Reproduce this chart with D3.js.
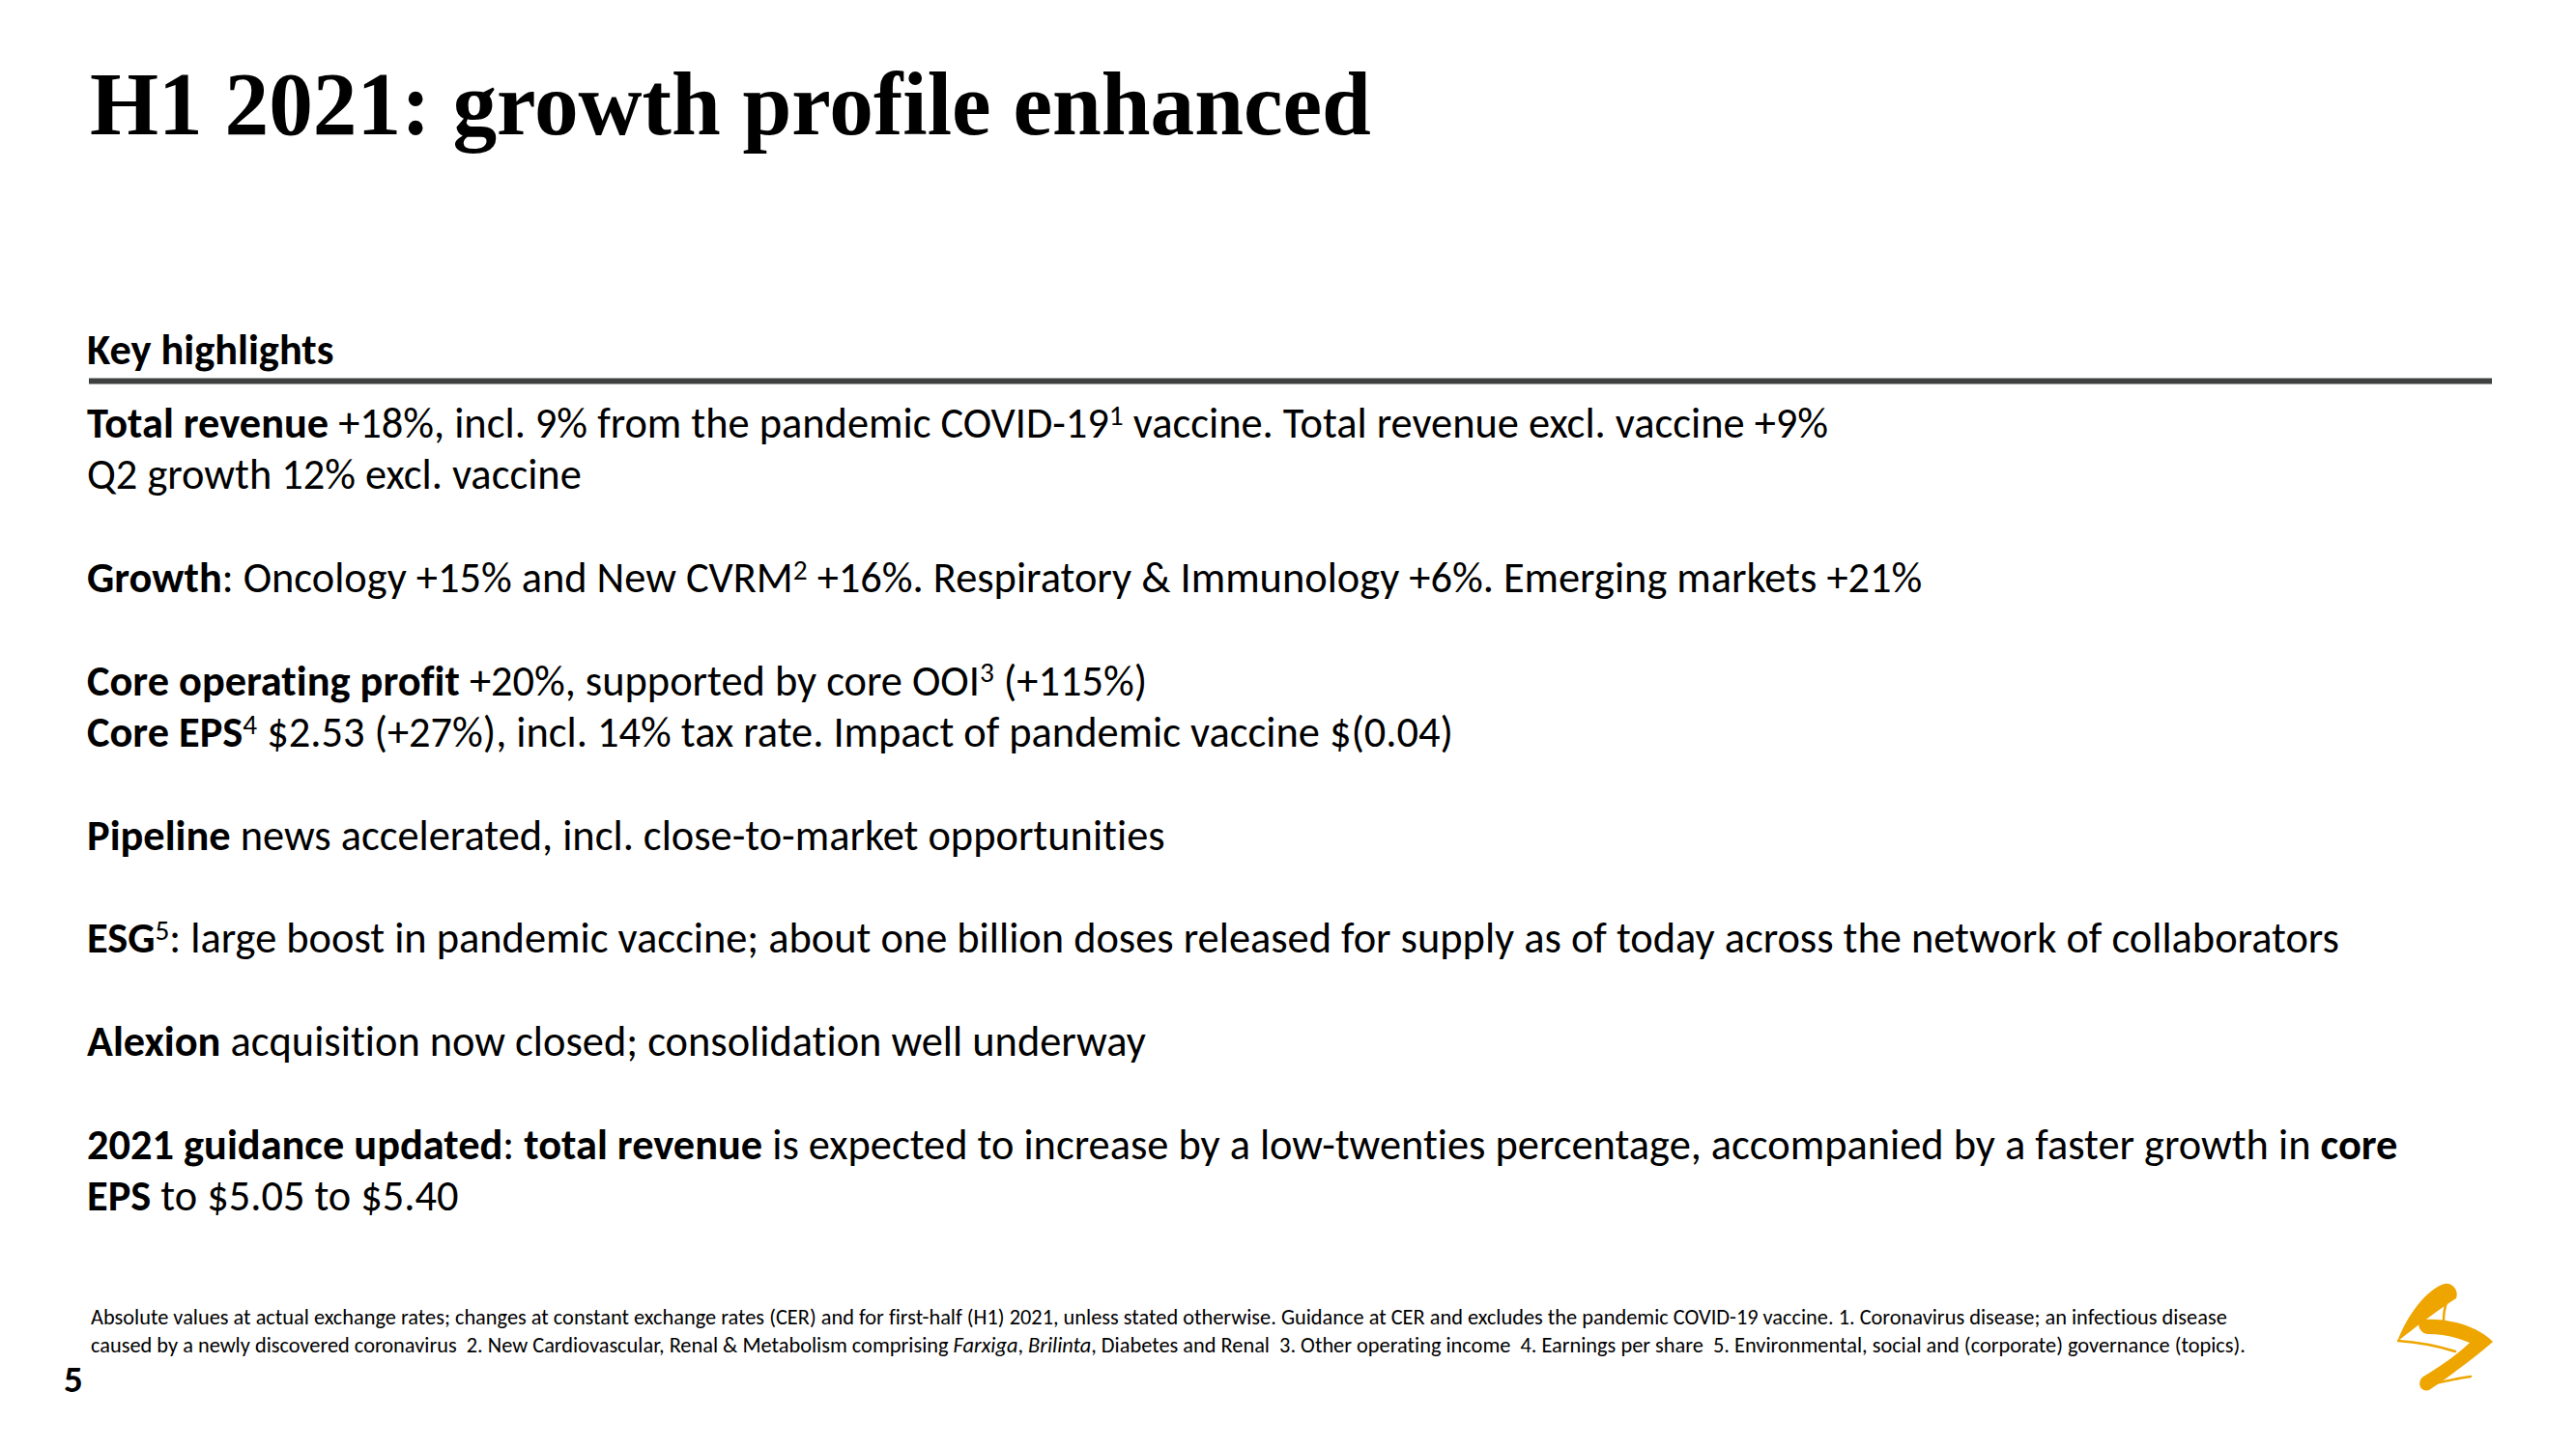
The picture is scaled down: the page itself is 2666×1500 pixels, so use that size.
<!DOCTYPE html>
<html><head><meta charset="utf-8">
<script src="https://cdn.jsdelivr.net/npm/d3@7"></script>
<style>html,body{margin:0;padding:0;background:#fff;overflow:hidden}svg{display:block}
text{font-variant-ligatures:none;font-feature-settings:"liga" 0,"clig" 0,"dlig" 0;}</style>
</head><body>
<script>
// ---------- content ----------
const titleText = "H1 2021: growth profile enhanced";
const sectionHeading = "Key highlights";
// segment styles: n normal, b bold, i italic, s superscript
const bodyRows = [0, 1, 3, 5, 6, 8, 10, 12, 14, 15];
const bodyLines = [
  [["Total revenue","b"],[" +18%, incl. 9% from the pandemic COVID-19","n"],["1","s"],[" vaccine. Total revenue excl. vaccine +9%","n"]],
  [["Q2 growth 12% excl. vaccine","n"]],
  [["Growth","b"],[": Oncology +15% and New CVRM","n"],["2","s"],[" +16%. Respiratory & Immunology +6%. Emerging markets +21%","n"]],
  [["Core operating profit","b"],[" +20%, supported by core OOI","n"],["3","s"],[" (+115%)","n"]],
  [["Core EPS","b"],["4","s"],[" $2.53 (+27%), incl. 14% tax rate. Impact of pandemic vaccine $(0.04)","n"]],
  [["Pipeline","b"],[" news accelerated, incl. close-to-market opportunities","n"]],
  [["ESG","b"],["5","s"],[": large boost in pandemic vaccine; about one billion doses released for supply as of today across the network of collaborators","n"]],
  [["Alexion","b"],[" acquisition now closed; consolidation well underway","n"]],
  [["2021 guidance updated","b"],[": ","n"],["total revenue","b"],[" is expected to increase by a low-twenties percentage, accompanied by a faster growth in ","n"],["core","b"]],
  [["EPS","b"],[" to $5.05 to $5.40","n"]]
];
const footnoteLines = [
  [["Absolute values at actual exchange rates; changes at constant exchange rates (CER) and for first-half (H1) 2021, unless stated otherwise. Guidance at CER and excludes the pandemic COVID-19 vaccine. 1. Coronavirus disease; an infectious disease","n"]],
  [["caused by a newly discovered coronavirus  2. New Cardiovascular, Renal & Metabolism comprising ","n"],["Farxiga","i"],[", ","n"],["Brilinta","i"],[", Diabetes and Renal  3. Other operating income  4. Earnings per share  5. Environmental, social and (corporate) governance (topics).","n"]]
];
const pageNumber = "5";

// ---------- layout ----------
const W = 2666, H = 1500;
const sans = "Carlito, Calibri, Lato, 'Open Sans', sans-serif";
const serif = "'Liberation Serif', 'Times New Roman', serif";
const bodySize = 44.4, footSize = 22.2;

const svg = d3.select("body").append("svg").attr("width", W).attr("height", H);
svg.append("rect").attr("width", W).attr("height", H).attr("fill", "#fff");

function addText(parent, segs, size, family) {
  const t = parent.append("text")
    .attr("xml:space", "preserve").style("white-space", "pre")
    .attr("font-family", family).attr("font-size", size).attr("fill", "#000")
    .attr("x", 0).attr("y", 0);
  let raised = false;
  segs.forEach(([txt, st]) => {
    const ts = t.append("tspan").text(txt);
    if (st === "b") ts.attr("font-weight", "bold");
    if (st === "i") ts.attr("font-style", "italic");
    if (st === "s") { ts.attr("font-size", size * 0.66).attr("dy", -size * 0.3); raised = true; }
    else if (raised) { ts.attr("dy", size * 0.3); raised = false; }
  });
  return t;
}

// Title
const titleG = svg.append("g");
const titleT = addText(titleG, [[titleText, "b"]], 93, serif);
const titleSx = 1326 / titleT.node().getBBox().width;
titleG.attr("transform", `translate(93,139) scale(${titleSx},1)`);

// Body lines
const rowY = d3.scaleLinear().domain([0, 15]).range([453, 1253]);
const bodyGroups = bodyLines.map((segs, i) => {
  const g = svg.append("g");
  const t = addText(g, segs, bodySize, sans);
  return {g, t, y: rowY(bodyRows[i])};
});
// common horizontal fit: longest line (ESG) spans 90 -> 2421
const bodySx = 2331 / bodyGroups[6].t.node().getComputedTextLength();
bodyGroups.forEach(d => d.g.attr("transform", `translate(90,${d.y}) scale(${bodySx},1)`));

// Heading + rule
const headG = svg.append("g").attr("transform", `translate(90,377) scale(${bodySx},1)`);
addText(headG, [[sectionHeading, "b"]], bodySize, sans);
svg.append("line").attr("x1", 92).attr("x2", 2579).attr("y1", 394.5).attr("y2", 394.5)
  .attr("stroke", "#3f4040").attr("stroke-width", 6);

// Footnotes
const footY = d3.scaleLinear().domain([0, 1]).range([1371, 1400]);
const footGroups = footnoteLines.map((segs, i) => {
  const g = svg.append("g");
  const t = addText(g, segs, footSize, sans);
  return {g, t, y: footY(i)};
});
const footSx = 2230 / footGroups[1].t.node().getComputedTextLength();
footGroups.forEach(d => d.g.attr("transform", `translate(94,${d.y}) scale(${footSx},1)`));

// Page number
const pnG = svg.append("g").attr("transform", `translate(66,1441) scale(${bodySx},1)`);
addText(pnG, [[pageNumber, "b"]], 39, sans);

// Logo (AstraZeneca symbol)
const gold = "#EFA500";
const logo = svg.append("g").attr("transform", "translate(2440,1310)");
// upper thick swoosh (top -> left apex)
logo.append("path").attr("fill", gold)
  .attr("d", "M90,19 C77,22 54,44 41,79 C58,65 82,47 102,34 C105,26 98,17 90,19 Z");
// lower thick swoosh (centre -> right apex -> bottom)
logo.append("path").attr("fill", gold)
  .attr("d", "M67,56 C93,54 123,62 140,79 C119,97 96,114 74,129 C64,132 61,120 68,115 C86,104 102,93 116,80 C102,74 88,71 73,71 C63,71 60,57 67,56 Z");
// thin ribbons
const thin = logo.append("g").attr("fill", "none").attr("stroke", gold).attr("stroke-linecap", "round");
thin.append("path").attr("d", "M42,78 Q72,80 101,89").attr("stroke-width", 2.5);
thin.append("path").attr("d", "M97,27 Q86,46 90,70").attr("stroke-width", 2.5);
thin.append("path").attr("d", "M73,124 Q96,118 117,115").attr("stroke-width", 2.5);
</script>
</body></html>
